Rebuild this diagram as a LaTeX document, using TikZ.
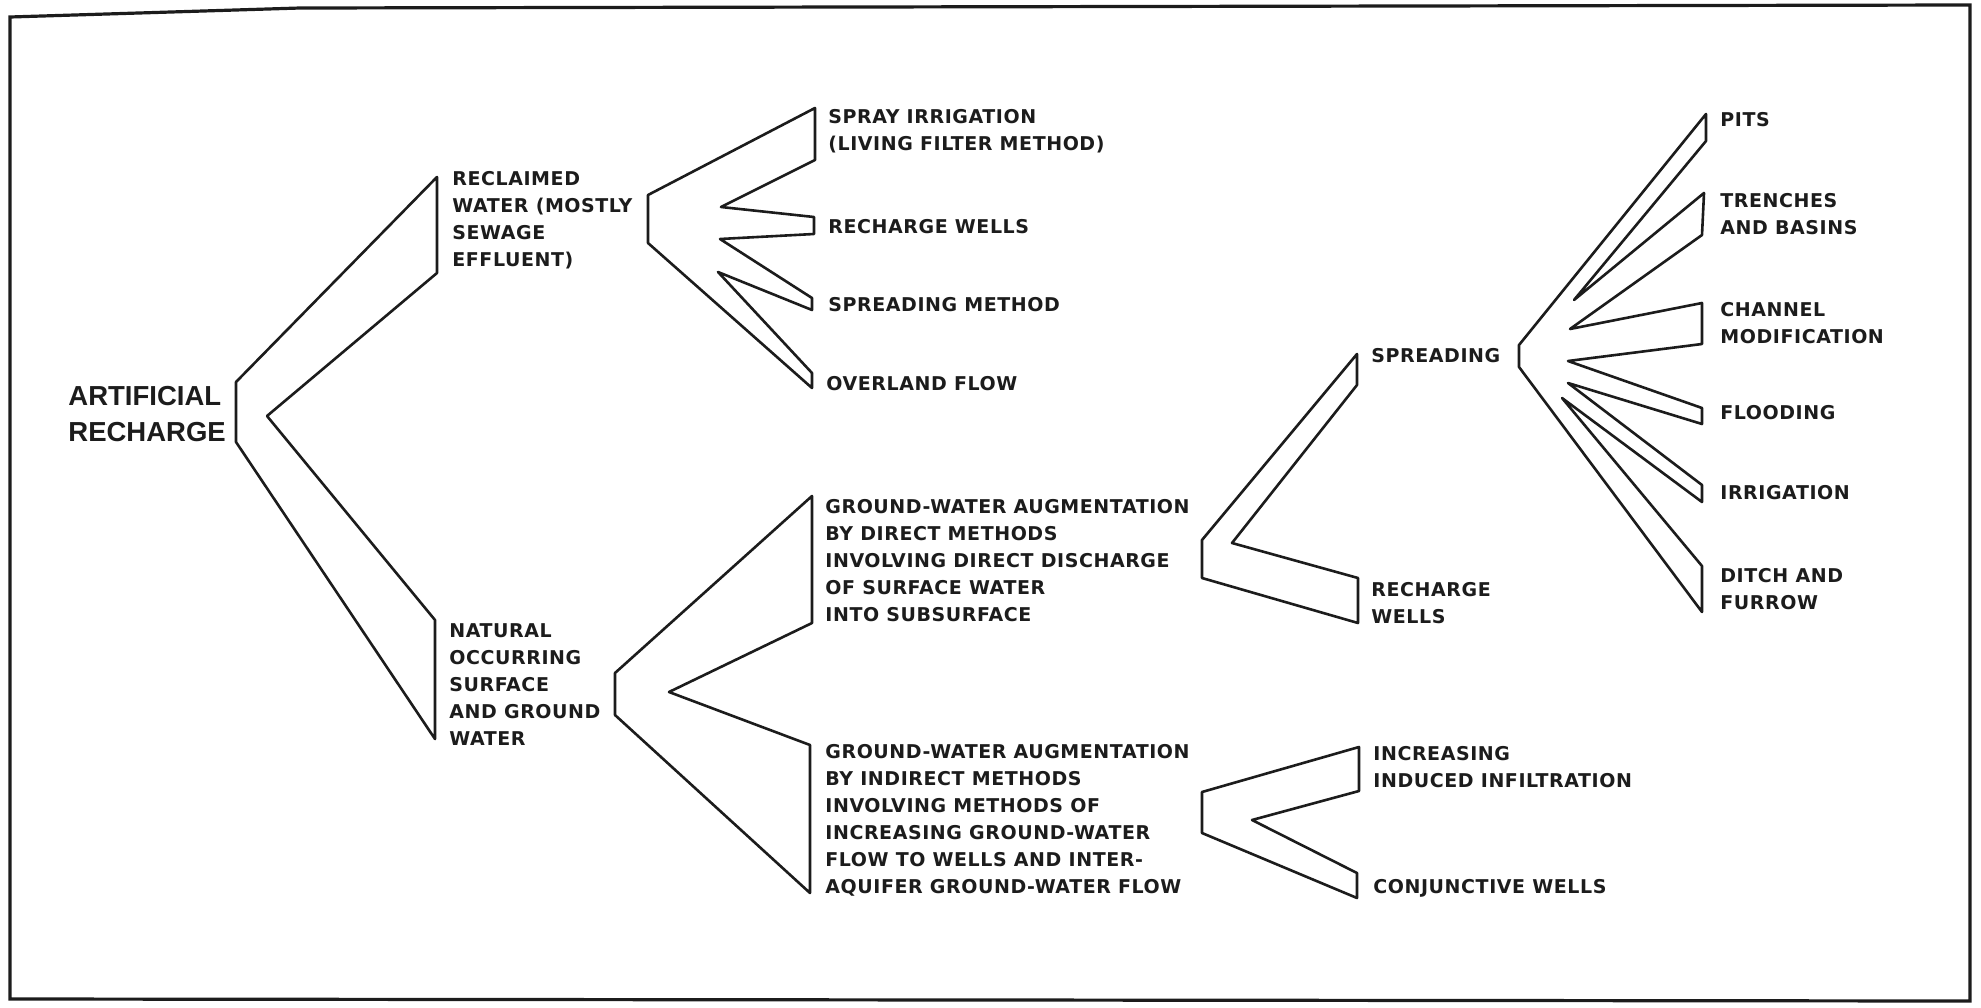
\documentclass[tikz,border=0pt]{standalone}
\usepackage{fontspec}
\newfontfamily\letterfont[LetterSpace=3]{DejaVu Sans}
\newfontfamily\titlefont{Liberation Sans}
\definecolor{ink}{RGB}{28,28,28}

\begin{document}
\begin{tikzpicture}[x=0.5pt, y=-0.5pt,
    frame/.style={draw=ink, line width=1.6pt},
    brk/.style={draw=ink, line width=1.3pt, line join=round},
    lbl/.style={font=\letterfont\bfseries\fontsize{9.5}{13.5}\selectfont, text=ink,
      align=left, anchor=west, inner sep=0pt},
    ttl/.style={font=\titlefont\bfseries\fontsize{13.75}{18}\selectfont, text=ink,
      align=left, anchor=west, inner sep=0pt}]
  \useasboundingbox (0,0) rectangle (1981,1007);
  \draw[frame] (10,17) -- (300,8) -- (1970,5) -- (1970,1001) -- (10,999) -- cycle;

  % root
  \node[ttl] (art) at (68,414) {ARTIFICIAL\\RECHARGE};
  \draw[brk] (437,177) -- (236,382) -- (236,442) -- (435,739) -- (435,620)
    -- (267,416) -- (437,273) -- cycle;

  % first level
  \node[lbl] (recl) at (452,220.5) {RECLAIMED\\WATER (MOSTLY\\SEWAGE\\EFFLUENT)};
  \node[lbl] (nat) at (449,685) {NATURAL\\OCCURRING\\SURFACE\\AND GROUND\\WATER};

  % reclaimed water fan
  \draw[brk] (648,195) -- (815,108) -- (815,160) -- (721,207) -- (814,217)
    -- (814,234) -- (720,239) -- (812,298) -- (812,310) -- (718,272)
    -- (812,373) -- (812,388) -- (648,243) -- cycle;
  \node[lbl] (spray) at (828,131) {SPRAY IRRIGATION\\(LIVING FILTER METHOD)};
  \node[lbl] (rwa) at (828,226.7) {RECHARGE WELLS};
  \node[lbl] (sprm) at (828,305) {SPREADING METHOD};
  \node[lbl] (over) at (826,383.3) {OVERLAND FLOW};

  % natural water bracket
  \draw[brk] (615,673) -- (812,496) -- (812,623) -- (669,692) -- (810,745)
    -- (810,893) -- (615,715) -- cycle;
  \node[lbl] (gwd) at (825,561) {GROUND-WATER AUGMENTATION\\BY DIRECT METHODS\\
    INVOLVING DIRECT DISCHARGE\\OF SURFACE WATER\\INTO SUBSURFACE};
  \node[lbl] (gwi) at (825,820.8) {GROUND-WATER AUGMENTATION\\BY INDIRECT METHODS\\
    INVOLVING METHODS OF\\INCREASING GROUND-WATER\\FLOW TO WELLS AND INTER-\\
    AQUIFER GROUND-WATER FLOW};

  % direct methods
  \draw[brk] (1202,540) -- (1357,354) -- (1357,385) -- (1232,543) -- (1358,578)
    -- (1358,623) -- (1202,578) -- cycle;
  \node[lbl] (spr) at (1371,356) {SPREADING};
  \node[lbl] (rwb) at (1371,603) {RECHARGE\\WELLS};

  % indirect methods
  \draw[brk] (1202,792) -- (1359,747) -- (1359,791) -- (1252,820) -- (1357,873)
    -- (1357,898) -- (1202,833) -- cycle;
  \node[lbl] (incr) at (1373,767.5) {INCREASING\\INDUCED INFILTRATION};
  \node[lbl] (conj) at (1373,888.3) {CONJUNCTIVE WELLS};

  % spreading fan
  \draw[brk] (1519,345) -- (1706,114) -- (1706,141) -- (1574,300) -- (1704,193)
    -- (1702,235) -- (1570,329) -- (1702,303) -- (1702,344) -- (1568,361)
    -- (1702,408) -- (1702,424) -- (1568,383) -- (1702,485) -- (1702,502)
    -- (1562,398) -- (1702,566) -- (1702,612) -- (1519,367) -- cycle;
  \node[lbl] (pits) at (1720,119.3) {PITS};
  \node[lbl] (trb) at (1720,214.5) {TRENCHES\\AND BASINS};
  \node[lbl] (chan) at (1720,323) {CHANNEL\\MODIFICATION};
  \node[lbl] (flood) at (1720,413) {FLOODING};
  \node[lbl] (irr) at (1720,493) {IRRIGATION};
  \node[lbl] (ditch) at (1720,589.5) {DITCH AND\\FURROW};
\end{tikzpicture}
\end{document}
